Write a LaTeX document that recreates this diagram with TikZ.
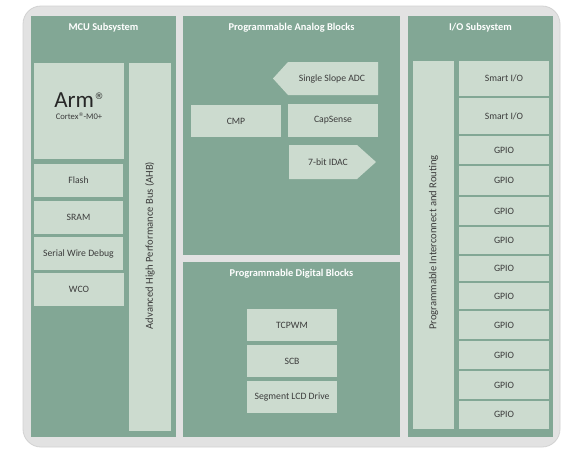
\documentclass[tikz,border=0pt]{standalone}
\usepackage{fontspec}
\setmainfont{Carlito}
\newfontfamily\symf{DejaVu Sans}
\definecolor{panelc}{HTML}{82A795}
\definecolor{innerc}{HTML}{CCDBCF}
\definecolor{framec}{HTML}{E2E2E2}
\definecolor{frameb}{HTML}{D2D2D2}
\definecolor{txtc}{HTML}{3C3C3C}
\tikzset{
  panel/.style={fill=panelc, draw=none, inner sep=0pt},
  blk/.style={fill=innerc, draw=none, inner sep=0pt, text=txtc, font=\fontsize{9.7}{11}\selectfont},
  ttl/.style={text=white, font=\bfseries\fontsize{10.4}{12}\selectfont, inner sep=0pt},
  lbl/.style={text=txtc, font=\fontsize{9.7}{11}\selectfont, inner sep=0pt},
  vlbl/.style={text=txtc, font=\fontsize{10.6}{12}\selectfont, inner sep=0pt, rotate=90},
}
\begin{document}
\begin{tikzpicture}[x=1pt,y=-1pt]
\useasboundingbox (0,0) rectangle (569,456);
\fill[white] (0,0) rectangle (569,456);
% outer frame
\node[fill=framec, draw=frameb, line width=0.8pt, rounded corners=18pt, minimum width=537pt, minimum height=441pt, inner sep=0pt] (frame) at (291.5,226.5) {};
% panels
\node[panel, minimum width=145pt, minimum height=421pt] (mcu) at (103.5,226.5) {};
\node[panel, minimum width=217pt, minimum height=239pt] (ana) at (291.5,135.5) {};
\node[panel, minimum width=217pt, minimum height=175pt] (dig) at (291.5,349.5) {};
\node[panel, minimum width=145pt, minimum height=421pt] (io) at (480.5,226.5) {};
% titles
\node[ttl] (mcut) at (103.5,28) {MCU Subsystem};
\node[ttl] (anat) at (291.5,28) {Programmable Analog Blocks};
\node[ttl] (digt) at (291.5,274) {Programmable Digital Blocks};
\node[ttl] (iot) at (480.5,28) {I/O Subsystem};
% MCU blocks
\node[blk, minimum width=90pt, minimum height=96pt] (arm) at (79,111) {};
\node[text=black!85, font=\fontsize{23}{24}\selectfont, inner sep=0pt, anchor=base] (armt) at (79,107) {Arm\kern0.5pt\raisebox{8pt}{\symf\fontsize{9}{9}\selectfont ®}};
\node[lbl, font=\fontsize{8.6}{9}\selectfont] (cortex) at (79,116) {Cortex\raisebox{2.8pt}{\symf\fontsize{5}{5}\selectfont ®}-M0+};
\node[blk, minimum width=89pt, minimum height=33pt] (flash) at (78.5,180.5) {Flash};
\node[blk, minimum width=89pt, minimum height=33pt] (sram) at (78.5,217.5) {SRAM};
\node[blk, minimum width=89pt, minimum height=33pt] (swd) at (78.5,253.5) {Serial Wire Debug};
\node[blk, minimum width=90pt, minimum height=33pt] (wco) at (79,289.5) {WCO};
\node[blk, minimum width=42pt, minimum height=368pt] (ahb) at (150,247) {};
\node[vlbl] (ahbt) at (150,245.5) {Advanced High Performance Bus (AHB)};
% Analog
\fill[innerc] (273,78.5) -- (288,62) -- (378,62) -- (378,95) -- (288,95) -- cycle;
\node[lbl] (adc) at (332,78.5) {Single Slope ADC};
\node[blk, minimum width=90pt, minimum height=32pt] (cmp) at (236,121) {CMP};
\node[blk, minimum width=90pt, minimum height=33pt] (capsense) at (333,120.5) {CapSense};
\fill[innerc] (289,145) -- (357,145) -- (376,162) -- (357,179) -- (289,179) -- cycle;
\node[lbl] (idac) at (328,162) {7-bit IDAC};
% Digital
\node[blk, minimum width=90pt, minimum height=32pt] (tcpwm) at (292,325) {TCPWM};
\node[blk, minimum width=90pt, minimum height=32pt] (scb) at (292,361) {SCB};
\node[blk, minimum width=90pt, minimum height=32pt] (lcd) at (292,397) {Segment LCD Drive};
% I/O
\node[blk, minimum width=41pt, minimum height=368pt] (pir) at (433.5,245) {};
\node[vlbl] (pirt) at (433.5,242.5) {Programmable Interconnect and Routing};
\foreach \a/\b/\t/\n in {61/96.3/Smart I\slash O/s1, 97.7/134.3/Smart I\slash O/s2,
  135.7/164.3/GPIO/g1, 165.7/195.3/GPIO/g2, 196.7/225.3/GPIO/g3, 226.7/254.3/GPIO/g4,
  255.7/281.3/GPIO/g5, 282.7/309.3/GPIO/g6, 310.7/339.3/GPIO/g7, 340.7/369.3/GPIO/g8,
  370.7/399.3/GPIO/g9, 400.7/429/GPIO/g10}{
  \node[blk, minimum width=90pt, minimum height={(\b-\a)*1pt}] (\n) at (504,{(\a+\b)/2}) {\t};
}
\end{tikzpicture}
\end{document}
